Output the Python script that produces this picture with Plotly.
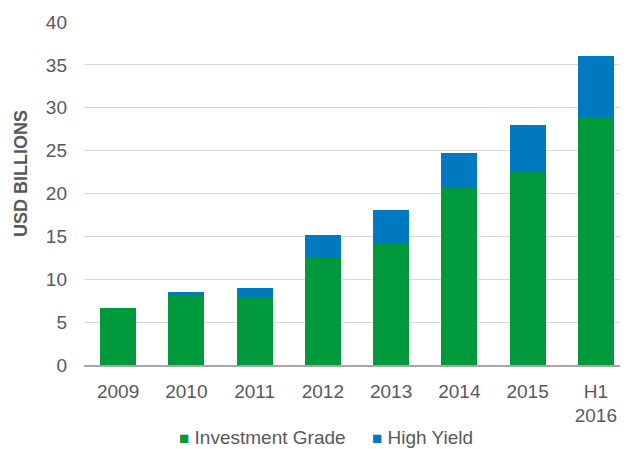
import plotly.graph_objects as go

categories = ["2009", "2010", "2011", "2012", "2013", "2014", "2015", "H1<br>2016"]
investment_grade = [6.7, 8.1, 7.85, 12.5, 14.1, 20.8, 22.5, 28.9]
high_yield = [0.0, 0.45, 1.15, 2.65, 3.95, 3.9, 5.5, 7.15]
y_ticks = [0, 5, 10, 15, 20, 25, 30, 35, 40]
series_names = ["Investment Grade", "High Yield"]
series_colors = ["#009A3D", "#0079C1"]

font_family = "Liberation Sans, Arial, sans-serif"
text_color = "#595959"

# page has an 8px body margin; figure coordinates are offset accordingly
L, T, R, B = 76, 14, 6, 92
W, H = 628, 449
plot_w = W - L - R
plot_h = H - T - B

def px_x(x):
    return (x - 8 - L) / plot_w

def px_y(y):
    return (H - B - (y - 8)) / plot_h

fig = go.Figure()
fig.add_trace(go.Bar(x=categories, y=investment_grade, name=series_names[0],
                     marker=dict(color=series_colors[0], line=dict(width=0))))
fig.add_trace(go.Bar(x=categories, y=high_yield, name=series_names[1],
                     marker=dict(color=series_colors[1], line=dict(width=0))))

legend_text = "     ".join(
    f"<span style='color:{c};font-size:17px'>■</span> {n}" for n, c in zip(series_names, series_colors)
)

fig.update_layout(
    width=W, height=H,
    barmode="stack", bargap=0.47,
    margin=dict(l=L, r=R, t=T, b=B),
    plot_bgcolor="white", paper_bgcolor="white",
    font=dict(family=font_family, size=19, color=text_color),
    showlegend=False,
    annotations=[
        dict(text="<b>USD BILLIONS</b>", textangle=-90,
             x=px_x(21), xref="paper", xanchor="center",
             y=px_y(174), yref="paper", yanchor="middle",
             showarrow=False, font=dict(size=18, color=text_color)),
        dict(text=legend_text, x=px_x(326), xref="paper", xanchor="center",
             y=px_y(437), yref="paper", yanchor="middle",
             showarrow=False, font=dict(size=19, color=text_color)),
    ],
)
fig.update_xaxes(showline=True, linecolor="#A6A6A6", linewidth=1.5, ticks="",
                 ticklabelstandoff=8, automargin=False,
                 tickfont=dict(size=19, color=text_color), fixedrange=True)
fig.update_yaxes(range=[0, 40], tickvals=y_ticks, showgrid=True, gridcolor="#D9D9D9",
                 gridwidth=1, zeroline=False, showline=False, ticks="", automargin=False,
                 ticklabelstandoff=16, tickfont=dict(size=19, color=text_color))

fig.write_html("out.html")
